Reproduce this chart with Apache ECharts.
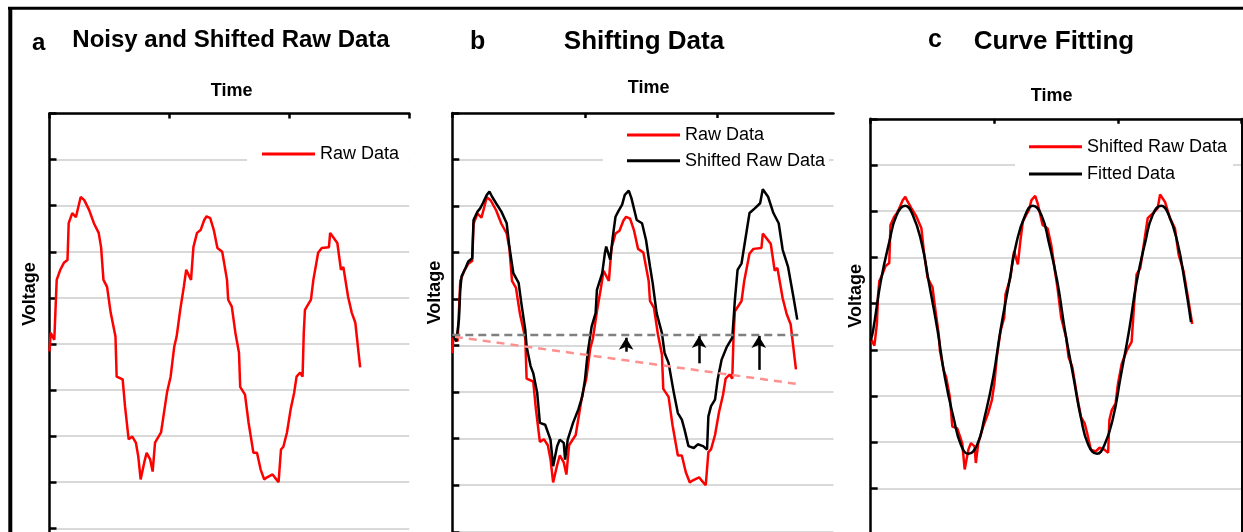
<!DOCTYPE html>
<html>
<head>
    <meta charset="utf-8">
    <title>Shifting and curve fitting</title>
    <style>
        html, body { margin: 0; padding: 0; background: #fff; overflow: hidden; }
        /* plots run past the bottom edge of the picture, so the canvas is taller than the window */
        #chart { width: 1243px; height: 600px; }
    </style>
</head>
<body>
<div id="chart"></div>
<script src="https://cdn.jsdelivr.net/npm/echarts@6.0.0/dist/echarts.min.js"></script>
<script type="text/javascript">
    // raw (noisy, drifting) signal
    const rawT = [0.00,0.01,0.04,0.06,0.09,0.12,0.15,0.16,0.19,0.22,0.26,0.29,0.33,0.37,0.41,0.43,0.45,0.48,0.51,0.55,
        0.56,0.61,0.63,0.66,0.69,0.72,0.74,0.76,0.79,0.81,0.84,0.86,0.88,0.93,0.95,0.98,1.01,1.04,1.06,1.09,
        1.12,1.14,1.18,1.20,1.23,1.26,1.29,1.31,1.34,1.37,1.40,1.44,1.48,1.49,1.52,1.55,1.58,1.59,1.63,1.66,
        1.70,1.73,1.76,1.79,1.81,1.86,1.88,1.91,1.93,1.95,1.98,2.01,2.04,2.06,2.09,2.11,2.12,2.13,2.18,2.20,
        2.24,2.27,2.33,2.34,2.37,2.40,2.43,2.45,2.49,2.52,2.55,2.59];
    const rawV = [-0.16,0.24,0.09,1.39,1.61,1.76,1.82,2.62,2.84,2.75,3.19,3.12,2.91,2.62,2.41,2.10,1.39,1.24,0.68,0.16,
        -0.71,-0.77,-1.36,-2.07,-2.01,-2.14,-2.44,-2.94,-2.57,-2.36,-2.51,-2.77,-2.14,-1.92,-1.57,-1.05,-0.71,-0.06,0.16,0.74,
        1.24,1.61,1.39,2.10,2.41,2.47,2.69,2.77,2.73,2.47,2.08,2.00,1.39,0.96,0.81,0.24,-0.19,-0.93,-1.10,-1.71,
        -2.36,-2.36,-2.72,-2.94,-2.90,-2.83,-2.90,-3.00,-2.29,-2.23,-1.92,-1.43,-1.06,-0.71,-0.62,-0.71,0.24,0.74,0.96,1.39,
        1.98,2.08,2.10,2.41,2.30,2.19,1.61,1.67,1.02,0.68,0.46,-0.51];

    // shifted signal (black) / panel c (red)
    const shiftT = [0.00,0.03,0.05,0.06,0.07,0.10,0.12,0.15,0.16,0.19,0.21,0.23,0.26,0.28,0.30,0.33,0.37,0.41,0.43,0.46,
        0.50,0.52,0.55,0.56,0.59,0.61,0.64,0.66,0.70,0.74,0.76,0.79,0.81,0.84,0.85,0.87,0.91,0.95,0.98,1.00,
        1.02,1.05,1.08,1.09,1.13,1.15,1.16,1.19,1.21,1.23,1.25,1.28,1.30,1.33,1.35,1.39,1.43,1.46,1.49,1.51,
        1.54,1.58,1.60,1.63,1.67,1.70,1.73,1.75,1.78,1.82,1.85,1.89,1.92,1.93,1.95,1.98,2.00,2.03,2.07,2.11,
        2.13,2.15,2.18,2.22,2.24,2.28,2.32,2.34,2.38,2.42,2.46,2.49,2.53,2.57,2.60];
    const shiftV = [0.24,0.09,0.56,1.20,1.49,1.67,1.81,1.88,2.70,2.88,2.95,3.06,3.24,3.31,3.20,3.06,2.88,2.63,2.13,1.56,
        1.35,0.92,0.34,-0.02,-0.44,-0.59,-1.02,-1.66,-1.70,-2.02,-2.59,-2.16,-2.02,-2.09,-2.45,-2.02,-1.66,-1.37,-1.09,-0.73,
        -0.16,0.41,0.70,1.20,1.56,1.99,2.13,1.85,2.35,2.77,2.88,3.03,3.24,3.33,3.17,2.70,2.63,2.27,1.70,1.35,
        0.70,0.27,-0.16,-0.37,-1.02,-1.45,-1.59,-1.80,-2.16,-2.20,-2.12,-2.16,-2.23,-1.52,-1.30,-1.16,-0.73,-0.30,-0.02,0.17,
        0.99,1.63,1.77,2.49,2.85,2.95,3.06,3.36,3.20,2.85,2.63,2.06,1.70,1.06,0.56];

    // fitted sine (black)
    const fitT = [0.00,0.02,0.08,0.15,0.21,0.28,0.34,0.41,0.47,0.54,0.60,0.67,0.73,0.79,0.86,0.92,0.99,1.05,1.12,1.18,
        1.25,1.31,1.38,1.44,1.51,1.57,1.64,1.70,1.76,1.83,1.89,1.96,2.02,2.09,2.15,2.22,2.28,2.35,2.41,2.48,2.54,2.59];
    const fitV = [0.20,0.43,1.46,2.33,2.92,3.12,2.92,2.33,1.46,0.43,-0.60,-1.47,-2.06,-2.25,-2.06,-1.47,-0.60,0.43,1.46,2.33,
        2.92,3.12,2.92,2.33,1.46,0.43,-0.60,-1.47,-2.06,-2.25,-2.06,-1.47,-0.60,0.43,1.46,2.33,2.92,3.12,2.92,2.33,1.46,0.60];

    // panel b helpers: drift line, target level and the arrows between them
    const trendT = [0.02, 2.59];
    const trendV = [0.19, -0.82];
    const levelT = [0.00, 2.61];
    const levelV = [0.23, 0.23];
    const arrowT = [1.31, 1.86, 2.31];
    const arrowFrom = [-0.13, -0.38, -0.52];
    const arrowTo = [0.17, 0.21, 0.21];

    // axis extents (no tick labels in the picture)
    const xMax = [3, 2.873, 3];
    const xTicks = [0, 1, 2, 3];
    const yMin = -5, yMax = 5;

    const pairs = (ts, vs) => ts.map((t, i) => [t, vs[i]]);
    const FONT = '"Liberation Sans", Arial, sans-serif';

    let myChart = echarts.init(document.getElementById('chart'));

    const xAxes = xMax.map((mx, i) => ({
        gridIndex: i, type: 'value', position: 'top', min: 0, max: mx, interval: 1,
        axisLine: { onZero: false, lineStyle: { color: '#000', width: 2.5 } },
        axisTick: { inside: true, length: 5, customValues: xTicks.filter(v => v <= mx), lineStyle: { color: '#000', width: 2.5 } },
        axisLabel: { show: false },
        splitLine: { show: false }
    }));
    const yAxes = [0, 1, 2].map(i => ({
        gridIndex: i, type: 'value', min: yMin, max: yMax, interval: 1,
        axisLine: { onZero: false, lineStyle: { color: '#000', width: 2.5 } },
        axisTick: { inside: true, length: 7, lineStyle: { color: '#000', width: 2.5 } },
        axisLabel: { show: false },
        splitLine: { show: true, lineStyle: { color: '#d9d9d9', width: 2 } }
    }));
    // right edge of panel c
    yAxes.push({
        gridIndex: 2, type: 'value', position: 'right', min: yMin, max: yMax,
        axisLine: { show: true, onZero: false, lineStyle: { color: '#000', width: 2 } },
        axisTick: { show: false }, axisLabel: { show: false }, splitLine: { show: false }
    });

    const legendBase = {
        orient: 'vertical', icon: 'rect', itemWidth: 53, itemHeight: 3,
        backgroundColor: '#fff', selectedMode: false,
        formatter: name => name.slice(2),
        textStyle: { fontFamily: FONT, fontSize: 18, color: '#000', lineHeight: 20 }
    };

    const txt = (text, x, y, size, align, rot) => ({
        type: 'text', x: x, y: y, rotation: rot || 0,
        style: { text: text, fill: '#000', font: 'bold ' + size + 'px ' + FONT, textAlign: align || 'center', textVerticalAlign: 'middle' }
    });

    myChart.setOption({
        animation: false,
        grid: [
            { left: 49.5, top: 113.5, width: 359.8, height: 460.9 },
            { left: 452.3, top: 113, width: 381.2, height: 465.3 },
            { left: 870.7, top: 118.8, width: 371, height: 462 }
        ],
        xAxis: xAxes,
        yAxis: yAxes,
        legend: [
            Object.assign({}, legendBase, { left: 247, top: 136, padding: [8, 10, 8, 15], data: ['a:Raw Data'] }),
            Object.assign({}, legendBase, { left: 603, top: 119, padding: [6, 4, 6, 24], itemGap: 5.7, data: ['b:Raw Data', 'b:Shifted Raw Data'] }),
            Object.assign({}, legendBase, { left: 1015, top: 128.7, padding: [8, 6, 8, 14], itemGap: 7.3, data: ['c:Shifted Raw Data', 'c:Fitted Data'] })
        ],
        graphic: [
            // figure frame
            { type: 'line', shape: { x1: 8, y1: 8.3, x2: 1243, y2: 8.3 }, style: { stroke: '#000', lineWidth: 3 } },
            { type: 'line', shape: { x1: 10.3, y1: 7, x2: 10.3, y2: 600 }, style: { stroke: '#000', lineWidth: 4 } },
            txt('a', 32, 43, 24, 'left'),
            txt('Noisy and Shifted Raw Data', 231, 40.3, 24),
            txt('b', 470, 42.4, 25, 'left'),
            txt('Shifting Data', 644, 42, 26),
            txt('c', 928, 39.7, 25, 'left'),
            txt('Curve Fitting', 1054, 42, 26),
            txt('Time', 231.7, 90.7, 18),
            txt('Time', 648.7, 88, 18),
            txt('Time', 1051.7, 96.3, 18),
            txt('Voltage', 29.7, 294, 18, 'center', Math.PI / 2),
            txt('Voltage', 435.3, 292.5, 18, 'center', Math.PI / 2),
            txt('Voltage', 856, 295.8, 18, 'center', Math.PI / 2)
        ],
        series: [
            {
                name: 'a:Raw Data', type: 'line', xAxisIndex: 0, yAxisIndex: 0,
                data: pairs(rawT, rawV), symbol: 'none', color: '#ff0000', lineStyle: { width: 2.5 }
            },
            {
                name: 'b:Raw Data', type: 'line', xAxisIndex: 1, yAxisIndex: 1,
                data: pairs(rawT, rawV), symbol: 'none', color: '#ff0000', lineStyle: { width: 2.5 }
            },
            {
                name: 'b:Shifted Raw Data', type: 'line', xAxisIndex: 1, yAxisIndex: 1,
                data: pairs(shiftT, shiftV), symbol: 'none', color: '#000000', lineStyle: { width: 2.5 }
            },
            {
                name: 'b:trend', type: 'line', xAxisIndex: 1, yAxisIndex: 1,
                data: pairs(trendT, trendV), symbol: 'none', color: '#ff9090',
                lineStyle: { width: 2.5, type: [8, 6] }
            },
            {
                name: 'b:level', type: 'line', xAxisIndex: 1, yAxisIndex: 1,
                data: pairs(levelT, levelV), symbol: 'none', color: '#808080',
                lineStyle: { width: 2.5, type: [8, 5] },
                markLine: {
                    silent: true, symbol: ['none', 'arrow'], symbolSize: [11, 12],
                    label: { show: false },
                    lineStyle: { color: '#000', type: 'solid', width: 2.5 },
                    data: arrowT.map((t, i) => [{ coord: [t, arrowFrom[i]] }, { coord: [t, arrowTo[i]] }])
                }
            },
            {
                name: 'c:Shifted Raw Data', type: 'line', xAxisIndex: 2, yAxisIndex: 2,
                data: pairs(shiftT, shiftV), symbol: 'none', color: '#ff0000', lineStyle: { width: 2.5 }
            },
            {
                name: 'c:Fitted Data', type: 'line', xAxisIndex: 2, yAxisIndex: 2,
                data: pairs(fitT, fitV), symbol: 'none', smooth: 0.5, color: '#000000', lineStyle: { width: 2.5 }
            }
        ]
    });
</script>
</body>
</html>
